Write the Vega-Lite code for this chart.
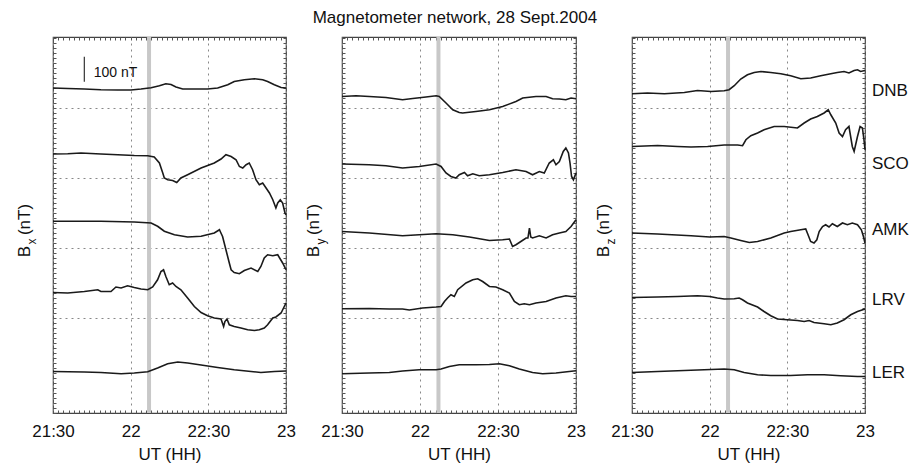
{
"$schema": "https://vega.github.io/schema/vega-lite/v6.json",
"background": "white",
"padding": {"left": 14, "top": 9, "right": 0, "bottom": 0},
"title": {"text": "Magnetometer network, 28 Sept.2004", "fontSize": 17, "fontWeight": "normal", "font": "Liberation Sans", "color": "#111", "anchor": "middle", "baseline": "alphabetic", "offset": -6, "dx": -7},
"config": {
 "font": "Liberation Sans",
 "view": {"stroke": "#444", "strokeWidth": 1.2},
 "axis": {"domain": false, "ticks": false, "labels": false, "grid": false, "labelFont": "Liberation Sans", "titleFont": "Liberation Sans", "labelFontSize": 17, "titleFontSize": 17, "titleFontWeight": "normal", "labelColor": "#111", "titleColor": "#111", "tickColor": "#555", "tickWidth": 1, "gridColor": "#888", "gridDash": [2, 4], "gridWidth": 1}
},
"datasets": {
"bx": [
{"s":"DNB","m":30,"v":1300},{"s":"DNB","m":35.7,"v":1298},{"s":"DNB","m":42.1,"v":1296},{"s":"DNB","m":48.5,"v":1293},{"s":"DNB","m":55,"v":1292},{"s":"DNB","m":60.1,"v":1292},{"s":"DNB","m":64,"v":1296},{"s":"DNB","m":67.9,"v":1301},{"s":"DNB","m":71.1,"v":1309},{"s":"DNB","m":73.6,"v":1317},{"s":"DNB","m":75.6,"v":1314},{"s":"DNB","m":77.5,"v":1304},{"s":"DNB","m":80.1,"v":1296},{"s":"DNB","m":84.6,"v":1296},{"s":"DNB","m":89.7,"v":1296},{"s":"DNB","m":93.6,"v":1300},{"s":"DNB","m":97.5,"v":1313},{"s":"DNB","m":100,"v":1326},{"s":"DNB","m":103.9,"v":1333},{"s":"DNB","m":107.8,"v":1337},{"s":"DNB","m":111,"v":1333},{"s":"DNB","m":112.9,"v":1326},{"s":"DNB","m":115.5,"v":1313},{"s":"DNB","m":118.1,"v":1302},{"s":"DNB","m":120,"v":1300},
{"s":"SCO","m":30,"v":1036},{"s":"SCO","m":35.7,"v":1037},{"s":"SCO","m":40.8,"v":1040},{"s":"SCO","m":48.5,"v":1036},{"s":"SCO","m":55,"v":1033},{"s":"SCO","m":61.4,"v":1030},{"s":"SCO","m":66.6,"v":1029},{"s":"SCO","m":69.1,"v":1024},{"s":"SCO","m":71.1,"v":1000},{"s":"SCO","m":72.4,"v":960},{"s":"SCO","m":73,"v":940},{"s":"SCO","m":74.3,"v":933},{"s":"SCO","m":76.2,"v":930},{"s":"SCO","m":77.8,"v":922},{"s":"SCO","m":79.4,"v":940},{"s":"SCO","m":82,"v":953},{"s":"SCO","m":87.2,"v":980},{"s":"SCO","m":92.3,"v":1000},{"s":"SCO","m":94.9,"v":1016},{"s":"SCO","m":96.8,"v":1033},{"s":"SCO","m":98.8,"v":1026},{"s":"SCO","m":100.7,"v":1013},{"s":"SCO","m":102,"v":986},{"s":"SCO","m":103.3,"v":980},{"s":"SCO","m":104.6,"v":993},{"s":"SCO","m":105.8,"v":1000},{"s":"SCO","m":107.1,"v":973},{"s":"SCO","m":108.4,"v":933},{"s":"SCO","m":109.7,"v":913},{"s":"SCO","m":111,"v":920},{"s":"SCO","m":112.3,"v":900},{"s":"SCO","m":113.6,"v":880},{"s":"SCO","m":114.9,"v":853},{"s":"SCO","m":116.1,"v":820},{"s":"SCO","m":116.8,"v":840},{"s":"SCO","m":117.8,"v":853},{"s":"SCO","m":118.7,"v":840},{"s":"SCO","m":119.6,"v":800},{"s":"SCO","m":120,"v":793},
{"s":"AMK","m":30,"v":767},{"s":"AMK","m":48.5,"v":767},{"s":"AMK","m":61.4,"v":764},{"s":"AMK","m":67.9,"v":760},{"s":"AMK","m":70.4,"v":747},{"s":"AMK","m":73,"v":727},{"s":"AMK","m":76.9,"v":713},{"s":"AMK","m":82,"v":704},{"s":"AMK","m":87.2,"v":707},{"s":"AMK","m":92.3,"v":720},{"s":"AMK","m":94.3,"v":733},{"s":"AMK","m":94.6,"v":726},{"s":"AMK","m":95.5,"v":706},{"s":"AMK","m":96.8,"v":653},{"s":"AMK","m":98.1,"v":600},{"s":"AMK","m":98.8,"v":573},{"s":"AMK","m":100,"v":562},{"s":"AMK","m":102,"v":557},{"s":"AMK","m":103.9,"v":570},{"s":"AMK","m":106.5,"v":580},{"s":"AMK","m":109.1,"v":566},{"s":"AMK","m":110.3,"v":586},{"s":"AMK","m":111.6,"v":620},{"s":"AMK","m":112.9,"v":633},{"s":"AMK","m":114.9,"v":629},{"s":"AMK","m":116.8,"v":633},{"s":"AMK","m":118.7,"v":600},{"s":"AMK","m":120,"v":573},
{"s":"LRV","m":30,"v":482},{"s":"LRV","m":35.7,"v":480},{"s":"LRV","m":42.1,"v":486},{"s":"LRV","m":47.3,"v":493},{"s":"LRV","m":48.5,"v":486},{"s":"LRV","m":52.4,"v":486},{"s":"LRV","m":54.3,"v":504},{"s":"LRV","m":56.3,"v":500},{"s":"LRV","m":58.8,"v":509},{"s":"LRV","m":61.4,"v":502},{"s":"LRV","m":64,"v":496},{"s":"LRV","m":66.6,"v":493},{"s":"LRV","m":68.5,"v":504},{"s":"LRV","m":70.4,"v":533},{"s":"LRV","m":71.7,"v":566},{"s":"LRV","m":72.7,"v":573},{"s":"LRV","m":73.6,"v":546},{"s":"LRV","m":74.9,"v":513},{"s":"LRV","m":76.2,"v":520},{"s":"LRV","m":77.5,"v":506},{"s":"LRV","m":79.4,"v":493},{"s":"LRV","m":82,"v":460},{"s":"LRV","m":84.6,"v":426},{"s":"LRV","m":87.2,"v":402},{"s":"LRV","m":89.7,"v":389},{"s":"LRV","m":92.3,"v":380},{"s":"LRV","m":94.9,"v":376},{"s":"LRV","m":95.9,"v":346},{"s":"LRV","m":96.4,"v":366},{"s":"LRV","m":97.2,"v":376},{"s":"LRV","m":98.1,"v":353},{"s":"LRV","m":100,"v":346},{"s":"LRV","m":102.6,"v":340},{"s":"LRV","m":105.2,"v":333},{"s":"LRV","m":107.8,"v":330},{"s":"LRV","m":109.7,"v":333},{"s":"LRV","m":111.6,"v":340},{"s":"LRV","m":112.9,"v":353},{"s":"LRV","m":114.9,"v":380},{"s":"LRV","m":116.1,"v":384},{"s":"LRV","m":118.1,"v":400},{"s":"LRV","m":120,"v":440},
{"s":"LER","m":30,"v":166},{"s":"LER","m":42.1,"v":164},{"s":"LER","m":48.5,"v":162},{"s":"LER","m":56.3,"v":157},{"s":"LER","m":61.4,"v":160},{"s":"LER","m":66.6,"v":165},{"s":"LER","m":70.4,"v":180},{"s":"LER","m":74.3,"v":197},{"s":"LER","m":78.2,"v":204},{"s":"LER","m":82,"v":200},{"s":"LER","m":87.2,"v":192},{"s":"LER","m":93.6,"v":182},{"s":"LER","m":100,"v":173},{"s":"LER","m":106.5,"v":166},{"s":"LER","m":110.3,"v":162},{"s":"LER","m":115.5,"v":166},{"s":"LER","m":120,"v":168}
],
"by": [
{"s":"DNB","m":30,"v":1266},{"s":"DNB","m":35.4,"v":1269},{"s":"DNB","m":40.5,"v":1266},{"s":"DNB","m":46.9,"v":1262},{"s":"DNB","m":53.3,"v":1253},{"s":"DNB","m":57.2,"v":1258},{"s":"DNB","m":62.3,"v":1264},{"s":"DNB","m":66.2,"v":1269},{"s":"DNB","m":67.4,"v":1266},{"s":"DNB","m":70,"v":1240},{"s":"DNB","m":72.6,"v":1213},{"s":"DNB","m":75.1,"v":1202},{"s":"DNB","m":76.4,"v":1200},{"s":"DNB","m":81.5,"v":1206},{"s":"DNB","m":86.7,"v":1213},{"s":"DNB","m":91.8,"v":1226},{"s":"DNB","m":96.9,"v":1246},{"s":"DNB","m":99.5,"v":1260},{"s":"DNB","m":104.6,"v":1266},{"s":"DNB","m":108.5,"v":1266},{"s":"DNB","m":111,"v":1257},{"s":"DNB","m":113.6,"v":1256},{"s":"DNB","m":116.1,"v":1253},{"s":"DNB","m":118.1,"v":1260},{"s":"DNB","m":120,"v":1257},
{"s":"SCO","m":30,"v":996},{"s":"SCO","m":40.5,"v":993},{"s":"SCO","m":46.9,"v":989},{"s":"SCO","m":53.3,"v":980},{"s":"SCO","m":59.7,"v":986},{"s":"SCO","m":66.2,"v":996},{"s":"SCO","m":68.1,"v":986},{"s":"SCO","m":70,"v":960},{"s":"SCO","m":71.9,"v":946},{"s":"SCO","m":73.8,"v":940},{"s":"SCO","m":75.1,"v":953},{"s":"SCO","m":77.1,"v":962},{"s":"SCO","m":78.3,"v":949},{"s":"SCO","m":80.3,"v":957},{"s":"SCO","m":82.8,"v":949},{"s":"SCO","m":86.7,"v":953},{"s":"SCO","m":91.8,"v":962},{"s":"SCO","m":96.9,"v":973},{"s":"SCO","m":100.8,"v":966},{"s":"SCO","m":103.3,"v":953},{"s":"SCO","m":105.9,"v":966},{"s":"SCO","m":107.8,"v":960},{"s":"SCO","m":109.7,"v":1000},{"s":"SCO","m":111.3,"v":1013},{"s":"SCO","m":112.3,"v":993},{"s":"SCO","m":113.6,"v":1006},{"s":"SCO","m":115.1,"v":1046},{"s":"SCO","m":116.1,"v":1060},{"s":"SCO","m":117.1,"v":1040},{"s":"SCO","m":117.7,"v":1000},{"s":"SCO","m":118.3,"v":946},{"s":"SCO","m":119,"v":933},{"s":"SCO","m":120,"v":960},
{"s":"AMK","m":30,"v":726},{"s":"AMK","m":40.5,"v":720},{"s":"AMK","m":53.3,"v":709},{"s":"AMK","m":59.7,"v":713},{"s":"AMK","m":66.2,"v":717},{"s":"AMK","m":72.6,"v":713},{"s":"AMK","m":79,"v":704},{"s":"AMK","m":86.7,"v":690},{"s":"AMK","m":91.8,"v":693},{"s":"AMK","m":94.4,"v":696},{"s":"AMK","m":95.6,"v":666},{"s":"AMK","m":96.9,"v":673},{"s":"AMK","m":98.8,"v":686},{"s":"AMK","m":100.8,"v":700},{"s":"AMK","m":101.5,"v":700},{"s":"AMK","m":102.1,"v":740},{"s":"AMK","m":102.6,"v":704},{"s":"AMK","m":103.3,"v":700},{"s":"AMK","m":105.9,"v":709},{"s":"AMK","m":108.5,"v":700},{"s":"AMK","m":111,"v":713},{"s":"AMK","m":113.6,"v":720},{"s":"AMK","m":116.1,"v":726},{"s":"AMK","m":118.1,"v":746},{"s":"AMK","m":120,"v":773},
{"s":"LRV","m":30,"v":417},{"s":"LRV","m":40.5,"v":418},{"s":"LRV","m":48.2,"v":416},{"s":"LRV","m":53.3,"v":416},{"s":"LRV","m":55.9,"v":412},{"s":"LRV","m":61,"v":420},{"s":"LRV","m":66.2,"v":424},{"s":"LRV","m":68.1,"v":426},{"s":"LRV","m":69.4,"v":446},{"s":"LRV","m":70.6,"v":460},{"s":"LRV","m":71.9,"v":473},{"s":"LRV","m":73.2,"v":466},{"s":"LRV","m":74.5,"v":493},{"s":"LRV","m":77.7,"v":520},{"s":"LRV","m":80.3,"v":533},{"s":"LRV","m":82.2,"v":537},{"s":"LRV","m":84.1,"v":526},{"s":"LRV","m":86.7,"v":506},{"s":"LRV","m":89.2,"v":504},{"s":"LRV","m":91.8,"v":493},{"s":"LRV","m":94.4,"v":480},{"s":"LRV","m":96.3,"v":446},{"s":"LRV","m":98.2,"v":433},{"s":"LRV","m":100.1,"v":437},{"s":"LRV","m":102.1,"v":433},{"s":"LRV","m":104.6,"v":440},{"s":"LRV","m":108.5,"v":446},{"s":"LRV","m":112.3,"v":460},{"s":"LRV","m":116.1,"v":469},{"s":"LRV","m":118.1,"v":466},{"s":"LRV","m":120,"v":466},
{"s":"LER","m":30,"v":157},{"s":"LER","m":40.5,"v":160},{"s":"LER","m":48.2,"v":162},{"s":"LER","m":53.3,"v":168},{"s":"LER","m":59.7,"v":173},{"s":"LER","m":66.2,"v":173},{"s":"LER","m":68.1,"v":176},{"s":"LER","m":71.3,"v":186},{"s":"LER","m":75.1,"v":193},{"s":"LER","m":81.5,"v":193},{"s":"LER","m":86.7,"v":194},{"s":"LER","m":90.5,"v":197},{"s":"LER","m":94.4,"v":189},{"s":"LER","m":98.2,"v":176},{"s":"LER","m":103.3,"v":162},{"s":"LER","m":107.2,"v":157},{"s":"LER","m":112.3,"v":160},{"s":"LER","m":117.4,"v":166},{"s":"LER","m":120,"v":169}
],
"bz": [
{"s":"DNB","m":30,"v":1277},{"s":"DNB","m":36,"v":1280},{"s":"DNB","m":42.5,"v":1277},{"s":"DNB","m":50.2,"v":1282},{"s":"DNB","m":55.3,"v":1290},{"s":"DNB","m":60.5,"v":1286},{"s":"DNB","m":65.6,"v":1289},{"s":"DNB","m":67.5,"v":1293},{"s":"DNB","m":69.5,"v":1309},{"s":"DNB","m":72,"v":1336},{"s":"DNB","m":74.6,"v":1353},{"s":"DNB","m":77.2,"v":1362},{"s":"DNB","m":79.8,"v":1366},{"s":"DNB","m":83.6,"v":1362},{"s":"DNB","m":87.5,"v":1357},{"s":"DNB","m":91.3,"v":1349},{"s":"DNB","m":95.2,"v":1337},{"s":"DNB","m":99,"v":1340},{"s":"DNB","m":102.9,"v":1349},{"s":"DNB","m":106.8,"v":1357},{"s":"DNB","m":109.3,"v":1362},{"s":"DNB","m":111.9,"v":1366},{"s":"DNB","m":113.8,"v":1360},{"s":"DNB","m":115.8,"v":1370},{"s":"DNB","m":117.1,"v":1373},{"s":"DNB","m":118.3,"v":1366},{"s":"DNB","m":120,"v":1370},
{"s":"SCO","m":30,"v":1066},{"s":"SCO","m":39.9,"v":1070},{"s":"SCO","m":47.6,"v":1066},{"s":"SCO","m":52.8,"v":1064},{"s":"SCO","m":59.2,"v":1066},{"s":"SCO","m":65.6,"v":1072},{"s":"SCO","m":70.8,"v":1072},{"s":"SCO","m":72.7,"v":1069},{"s":"SCO","m":74,"v":1093},{"s":"SCO","m":75.9,"v":1109},{"s":"SCO","m":78.5,"v":1120},{"s":"SCO","m":81,"v":1133},{"s":"SCO","m":84.9,"v":1146},{"s":"SCO","m":88.8,"v":1146},{"s":"SCO","m":93.9,"v":1140},{"s":"SCO","m":96.5,"v":1160},{"s":"SCO","m":99,"v":1176},{"s":"SCO","m":101.6,"v":1186},{"s":"SCO","m":104.2,"v":1200},{"s":"SCO","m":105.8,"v":1213},{"s":"SCO","m":106.8,"v":1193},{"s":"SCO","m":108.7,"v":1160},{"s":"SCO","m":110,"v":1120},{"s":"SCO","m":111.3,"v":1106},{"s":"SCO","m":112.5,"v":1133},{"s":"SCO","m":113.8,"v":1146},{"s":"SCO","m":115.1,"v":1066},{"s":"SCO","m":115.8,"v":1046},{"s":"SCO","m":117.1,"v":1106},{"s":"SCO","m":118.1,"v":1146},{"s":"SCO","m":119,"v":1140},{"s":"SCO","m":119.6,"v":1093},{"s":"SCO","m":120,"v":1053},
{"s":"AMK","m":30,"v":720},{"s":"AMK","m":39.9,"v":716},{"s":"AMK","m":52.8,"v":709},{"s":"AMK","m":60,"v":704},{"s":"AMK","m":65.6,"v":706},{"s":"AMK","m":68.2,"v":700},{"s":"AMK","m":72,"v":690},{"s":"AMK","m":75.3,"v":682},{"s":"AMK","m":78.5,"v":686},{"s":"AMK","m":83.6,"v":700},{"s":"AMK","m":88.8,"v":720},{"s":"AMK","m":91.3,"v":726},{"s":"AMK","m":95.2,"v":733},{"s":"AMK","m":97.1,"v":736},{"s":"AMK","m":98,"v":713},{"s":"AMK","m":99,"v":686},{"s":"AMK","m":100.3,"v":680},{"s":"AMK","m":101.4,"v":693},{"s":"AMK","m":102.3,"v":726},{"s":"AMK","m":103.6,"v":746},{"s":"AMK","m":104.8,"v":753},{"s":"AMK","m":106.1,"v":744},{"s":"AMK","m":107.4,"v":757},{"s":"AMK","m":109.3,"v":746},{"s":"AMK","m":111.3,"v":760},{"s":"AMK","m":113.2,"v":753},{"s":"AMK","m":115.1,"v":760},{"s":"AMK","m":117.1,"v":753},{"s":"AMK","m":118.6,"v":733},{"s":"AMK","m":119.4,"v":706},{"s":"AMK","m":120,"v":680},
{"s":"LRV","m":30,"v":462},{"s":"LRV","m":39.9,"v":464},{"s":"LRV","m":47.6,"v":466},{"s":"LRV","m":55.3,"v":469},{"s":"LRV","m":60,"v":466},{"s":"LRV","m":63,"v":460},{"s":"LRV","m":65.6,"v":456},{"s":"LRV","m":69.5,"v":457},{"s":"LRV","m":71.4,"v":460},{"s":"LRV","m":72.7,"v":453},{"s":"LRV","m":74.6,"v":440},{"s":"LRV","m":78.5,"v":424},{"s":"LRV","m":81,"v":406},{"s":"LRV","m":83.6,"v":389},{"s":"LRV","m":86.2,"v":376},{"s":"LRV","m":90,"v":373},{"s":"LRV","m":93.9,"v":370},{"s":"LRV","m":96.5,"v":366},{"s":"LRV","m":98.4,"v":370},{"s":"LRV","m":100.3,"v":362},{"s":"LRV","m":104.2,"v":357},{"s":"LRV","m":106.8,"v":353},{"s":"LRV","m":109.3,"v":360},{"s":"LRV","m":111.9,"v":373},{"s":"LRV","m":114.5,"v":393},{"s":"LRV","m":117.1,"v":406},{"s":"LRV","m":120,"v":416},
{"s":"LER","m":30,"v":162},{"s":"LER","m":39.9,"v":166},{"s":"LER","m":50.2,"v":170},{"s":"LER","m":57.9,"v":173},{"s":"LER","m":65.6,"v":176},{"s":"LER","m":69.5,"v":173},{"s":"LER","m":73.3,"v":162},{"s":"LER","m":78.5,"v":153},{"s":"LER","m":83.6,"v":150},{"s":"LER","m":91.3,"v":150},{"s":"LER","m":97.8,"v":153},{"s":"LER","m":104.2,"v":153},{"s":"LER","m":110.6,"v":149},{"s":"LER","m":117.1,"v":146},{"s":"LER","m":120,"v":146}
]
},
"bounds": "flush",
"spacing": 56,
"hconcat": [
{
 "width": 233, "height": 376,
 "resolve": {"axis": {"x": "independent", "y": "independent"}},
 "layer": [
  {"data": {"values": [{}]}, "mark": {"type": "rule", "color": "#c8c8c8", "strokeWidth": 4},
   "encoding": {
    "x": {"datum": 67.1, "type": "quantitative", "scale": {"domain": [30, 120], "nice": false, "zero": false}, "axis": {"orient": "bottom", "tickCount": 45, "ticks": true, "tickSize": -3, "title": null}},
    "y": {"datum": 0, "type": "quantitative", "scale": {"domain": [0, 1504], "nice": false, "zero": false}, "axis": {"orient": "right", "tickCount": 75, "ticks": true, "tickSize": -3, "title": null}},
    "y2": {"datum": 1504}}},
  {"data": {"name": "bx"}, "mark": {"type": "line", "color": "#1a1a1a", "strokeWidth": 1.6},
   "encoding": {
    "x": {"field": "m", "type": "quantitative", "scale": {"domain": [30, 120], "nice": false, "zero": false}, "axis": {"orient": "bottom", "values": [30, 60, 90, 120], "labels": true, "labelExpr": "datum.value==30?'21:30':datum.value==60?'22':datum.value==90?'22:30':'23'", "labelPadding": 10, "labelFlush": false, "grid": true, "title": "UT (HH)", "titlePadding": 7}},
    "y": {"field": "v", "type": "quantitative", "scale": {"domain": [0, 1504], "nice": false, "zero": false}, "axis": {"orient": "left", "values": [380, 660, 940, 1220], "grid": true, "title": "B", "titleX": -24, "titleY": 214, "titleAngle": 270, "titleAlign": "center", "titleBaseline": "alphabetic"}},
    "detail": {"field": "s"}}},
  {"data": {"name": "bx"}, "mark": {"type": "line", "opacity": 0},
   "encoding": {
    "x": {"field": "m", "type": "quantitative", "scale": {"domain": [30, 120], "nice": false, "zero": false}, "axis": {"orient": "top", "tickCount": 45, "ticks": true, "tickSize": -3, "title": null}},
    "y": {"field": "v", "type": "quantitative", "scale": {"domain": [0, 1504], "nice": false, "zero": false}, "axis": {"orient": "left", "tickCount": 75, "ticks": true, "tickSize": -3, "title": "(nT)", "titleX": -24, "titleY": 182, "titleAngle": 270, "titleAlign": "center", "titleBaseline": "alphabetic"}},
    "detail": {"field": "s"}}},
  {"data": {"values": [{}]}, "mark": {"type": "rule", "opacity": 0},
   "encoding": {
    "y": {"datum": 0, "type": "quantitative", "scale": {"domain": [0, 1504], "nice": false, "zero": false}, "axis": {"orient": "left", "title": "x", "titleX": -18, "titleY": 204, "titleAngle": 270, "titleAlign": "center", "titleBaseline": "alphabetic", "titleFontSize": 12}}}},
  {"data": {"values": [{"m": 42.1, "v1": 1325, "v2": 1425}]}, "mark": {"type": "rule", "color": "#333", "strokeWidth": 1.2},
   "encoding": {
    "x": {"field": "m", "type": "quantitative", "scale": {"domain": [30, 120], "nice": false, "zero": false}, "axis": null},
    "y": {"field": "v1", "type": "quantitative", "scale": {"domain": [0, 1504], "nice": false, "zero": false}, "axis": null},
    "y2": {"field": "v2"}}},
  {"data": {"values": [{"m": 45.7, "v": 1362, "t": "100 nT"}]}, "mark": {"type": "text", "align": "left", "baseline": "middle", "fontSize": 14, "font": "Liberation Sans", "color": "#111"},
   "encoding": {
    "x": {"field": "m", "type": "quantitative", "scale": {"domain": [30, 120], "nice": false, "zero": false}, "axis": null},
    "y": {"field": "v", "type": "quantitative", "scale": {"domain": [0, 1504], "nice": false, "zero": false}, "axis": null},
    "text": {"field": "t"}}}
 ]
},
{
 "width": 234, "height": 376,
 "resolve": {"axis": {"x": "independent", "y": "independent"}},
 "layer": [
  {"data": {"values": [{}]}, "mark": {"type": "rule", "color": "#c8c8c8", "strokeWidth": 4},
   "encoding": {
    "x": {"datum": 67.1, "type": "quantitative", "scale": {"domain": [30, 120], "nice": false, "zero": false}, "axis": {"orient": "bottom", "tickCount": 45, "ticks": true, "tickSize": -3, "title": null}},
    "y": {"datum": 0, "type": "quantitative", "scale": {"domain": [0, 1504], "nice": false, "zero": false}, "axis": {"orient": "right", "tickCount": 75, "ticks": true, "tickSize": -3, "title": null}},
    "y2": {"datum": 1504}}},
  {"data": {"name": "by"}, "mark": {"type": "line", "color": "#1a1a1a", "strokeWidth": 1.6},
   "encoding": {
    "x": {"field": "m", "type": "quantitative", "scale": {"domain": [30, 120], "nice": false, "zero": false}, "axis": {"orient": "bottom", "values": [30, 60, 90, 120], "labels": true, "labelExpr": "datum.value==30?'21:30':datum.value==60?'22':datum.value==90?'22:30':'23'", "labelPadding": 10, "labelFlush": false, "grid": true, "title": "UT (HH)", "titlePadding": 7}},
    "y": {"field": "v", "type": "quantitative", "scale": {"domain": [0, 1504], "nice": false, "zero": false}, "axis": {"orient": "left", "values": [380, 660, 940, 1220], "grid": true, "title": "B", "titleX": -24, "titleY": 214, "titleAngle": 270, "titleAlign": "center", "titleBaseline": "alphabetic"}},
    "detail": {"field": "s"}}},
  {"data": {"name": "by"}, "mark": {"type": "line", "opacity": 0},
   "encoding": {
    "x": {"field": "m", "type": "quantitative", "scale": {"domain": [30, 120], "nice": false, "zero": false}, "axis": {"orient": "top", "tickCount": 45, "ticks": true, "tickSize": -3, "title": null}},
    "y": {"field": "v", "type": "quantitative", "scale": {"domain": [0, 1504], "nice": false, "zero": false}, "axis": {"orient": "left", "tickCount": 75, "ticks": true, "tickSize": -3, "title": "(nT)", "titleX": -24, "titleY": 182, "titleAngle": 270, "titleAlign": "center", "titleBaseline": "alphabetic"}},
    "detail": {"field": "s"}}},
  {"data": {"values": [{}]}, "mark": {"type": "rule", "opacity": 0},
   "encoding": {
    "y": {"datum": 0, "type": "quantitative", "scale": {"domain": [0, 1504], "nice": false, "zero": false}, "axis": {"orient": "left", "title": "y", "titleX": -18, "titleY": 204, "titleAngle": 270, "titleAlign": "center", "titleBaseline": "alphabetic", "titleFontSize": 12}}}}
 ]
},
{
 "width": 233, "height": 376,
 "resolve": {"axis": {"x": "independent", "y": "independent"}},
 "layer": [
  {"data": {"values": [{}]}, "mark": {"type": "rule", "color": "#c8c8c8", "strokeWidth": 4},
   "encoding": {
    "x": {"datum": 67.1, "type": "quantitative", "scale": {"domain": [30, 120], "nice": false, "zero": false}, "axis": {"orient": "bottom", "tickCount": 45, "ticks": true, "tickSize": -3, "title": null}},
    "y": {"datum": 0, "type": "quantitative", "scale": {"domain": [0, 1504], "nice": false, "zero": false}, "axis": {"orient": "right", "tickCount": 75, "ticks": true, "tickSize": -3, "title": null}},
    "y2": {"datum": 1504}}},
  {"data": {"name": "bz"}, "mark": {"type": "line", "color": "#1a1a1a", "strokeWidth": 1.6},
   "encoding": {
    "x": {"field": "m", "type": "quantitative", "scale": {"domain": [30, 120], "nice": false, "zero": false}, "axis": {"orient": "bottom", "values": [30, 60, 90, 120], "labels": true, "labelExpr": "datum.value==30?'21:30':datum.value==60?'22':datum.value==90?'22:30':'23'", "labelPadding": 10, "labelFlush": false, "grid": true, "title": "UT (HH)", "titlePadding": 7}},
    "y": {"field": "v", "type": "quantitative", "scale": {"domain": [0, 1504], "nice": false, "zero": false}, "axis": {"orient": "left", "values": [380, 660, 940, 1220], "grid": true, "title": "B", "titleX": -24, "titleY": 214, "titleAngle": 270, "titleAlign": "center", "titleBaseline": "alphabetic"}},
    "detail": {"field": "s"}}},
  {"data": {"name": "bz"}, "mark": {"type": "line", "opacity": 0},
   "encoding": {
    "x": {"field": "m", "type": "quantitative", "scale": {"domain": [30, 120], "nice": false, "zero": false}, "axis": {"orient": "top", "tickCount": 45, "ticks": true, "tickSize": -3, "title": null}},
    "y": {"field": "v", "type": "quantitative", "scale": {"domain": [0, 1504], "nice": false, "zero": false}, "axis": {"orient": "left", "tickCount": 75, "ticks": true, "tickSize": -3, "title": "(nT)", "titleX": -24, "titleY": 182, "titleAngle": 270, "titleAlign": "center", "titleBaseline": "alphabetic"}},
    "detail": {"field": "s"}}},
  {"data": {"values": [{}]}, "mark": {"type": "rule", "opacity": 0},
   "encoding": {
    "y": {"datum": 0, "type": "quantitative", "scale": {"domain": [0, 1504], "nice": false, "zero": false}, "axis": {"orient": "left", "title": "z", "titleX": -18, "titleY": 204, "titleAngle": 270, "titleAlign": "center", "titleBaseline": "alphabetic", "titleFontSize": 12}}}},
  {"data": {"values": [{"s": "DNB", "v": 1287}, {"s": "SCO", "v": 997}, {"s": "AMK", "v": 733}, {"s": "LRV", "v": 453}, {"s": "LER", "v": 159}]},
   "mark": {"type": "text", "align": "left", "baseline": "middle", "dx": 7, "fontSize": 17, "font": "Liberation Sans", "color": "#111"},
   "encoding": {
    "x": {"datum": 120, "type": "quantitative", "scale": {"domain": [30, 120], "nice": false, "zero": false}, "axis": null},
    "y": {"field": "v", "type": "quantitative", "scale": {"domain": [0, 1504], "nice": false, "zero": false}, "axis": null},
    "text": {"field": "s"}}}
 ]
}
]
}
